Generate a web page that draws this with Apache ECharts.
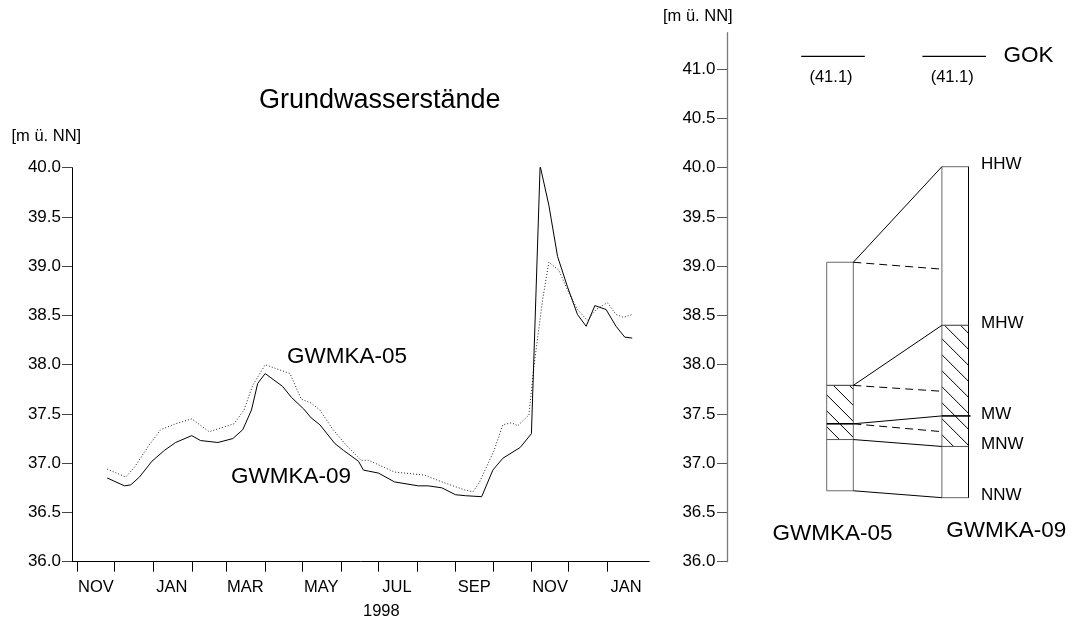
<!DOCTYPE html>
<html><head><meta charset="utf-8">
<script src="https://cdn.jsdelivr.net/npm/echarts@6/dist/echarts.min.js"></script>
<style>html,body{margin:0;padding:0;background:#fff}#c{width:1073px;height:623px}</style>
</head><body><div id="c"></div>
<script>
// ---------- DATA ----------
const dates09 = ['1997-11-25','1997-12-09','1997-12-14','1997-12-21','1997-12-31','1998-01-10','1998-01-19','1998-02-01','1998-02-08','1998-02-22','1998-03-06','1998-03-14','1998-03-21','1998-03-26','1998-04-01','1998-04-15','1998-04-22','1998-05-02','1998-05-08','1998-05-15','1998-05-27','1998-06-03','1998-06-15','1998-06-19','1998-06-23','1998-07-01','1998-07-14','1998-08-02','1998-08-10','1998-08-21','1998-09-01','1998-09-09','1998-09-22','1998-10-01','1998-10-09','1998-10-23','1998-11-01','1998-11-08','1998-11-15','1998-11-22','1998-11-30','1998-12-08','1998-12-15','1998-12-22','1998-12-31','1999-01-08','1999-01-15','1999-01-21'];
const values09 = [36.85,36.77,36.78,36.86,37.02,37.13,37.21,37.28,37.23,37.21,37.25,37.34,37.54,37.81,37.91,37.78,37.67,37.55,37.46,37.39,37.20,37.13,37.02,36.93,36.92,36.90,36.81,36.77,36.77,36.75,36.68,36.67,36.66,36.93,37.05,37.16,37.30,40.02,39.62,39.10,38.79,38.51,38.39,38.60,38.56,38.39,38.28,38.27];
const dates05 = ['1997-11-25','1997-12-10','1997-12-17','1997-12-28','1998-01-07','1998-01-19','1998-02-01','1998-02-15','1998-02-25','1998-03-07','1998-03-15','1998-03-22','1998-04-01','1998-04-21','1998-04-30','1998-05-08','1998-05-15','1998-05-25','1998-06-04','1998-06-17','1998-06-23','1998-07-14','1998-08-07','1998-08-21','1998-09-08','1998-09-15','1998-09-20','1998-10-02','1998-10-09','1998-10-16','1998-10-21','1998-10-30','1998-11-03','1998-11-10','1998-11-15','1998-11-23','1998-11-30','1998-12-08','1998-12-16','1998-12-23','1999-01-01','1999-01-08','1999-01-14','1999-01-21'];
const values05 = [36.94,36.86,36.96,37.17,37.34,37.40,37.45,37.32,37.36,37.40,37.54,37.79,38.00,37.91,37.65,37.61,37.54,37.35,37.20,37.03,37.03,36.91,36.88,36.81,36.73,36.71,36.80,37.13,37.39,37.41,37.38,37.49,37.98,38.66,39.04,38.96,38.76,38.56,38.45,38.56,38.63,38.51,38.48,38.51];

const monthTickDates = ['1997-11-01','1997-12-01','1998-01-01','1998-02-01','1998-03-01','1998-04-01','1998-05-01','1998-06-01','1998-07-01','1998-08-01','1998-09-01','1998-10-01','1998-11-01','1998-12-01','1999-01-01'];
const monthLabelDates = ['1997-11-16','1998-01-16','1998-03-16','1998-05-16','1998-07-16','1998-09-16','1998-11-16','1999-01-16'];
const monthLabels = ['NOV','JAN','MAR','MAY','JUL','SEP','NOV','JAN'];
const yearLabel = '1998';
const xRange = ['1997-10-27T18:00:00Z','1999-02-03T18:00:00Z'];

const yTicksLeft = [36, 36.5, 37, 37.5, 38, 38.5, 39, 39.5, 40];
const yTicksRight = [36, 36.5, 37, 37.5, 38, 38.5, 39, 39.5, 40, 40.5, 41];

const wells = ['GWMKA-05', 'GWMKA-09'];
const levelNames = ['HHW', 'MHW', 'MW', 'MNW', 'NNW'];
const levels05 = [39.04, 37.79, 37.40, 37.24, 36.72];
const levels09 = [40.01, 38.40, 37.48, 37.17, 36.65];
const dashedEnds09 = [38.97, 37.73, 37.32];   // dashed connectors from GWMKA-05 HHW/MHW/MW
const gokLevels = [41.13, 41.13];
const gokName = 'GOK';

const unitLabel = '[m ü. NN]';
const titleText = 'Grundwasserstände';

// ---------- helpers ----------
const ts = s => Date.parse(s.length === 10 ? s + 'T00:00:00Z' : s);
const FONT = '"Liberation Sans", Arial, Helvetica, sans-serif';
const labelMap = {};
monthLabelDates.forEach((d, i) => { labelMap[ts(d)] = monthLabels[i]; });

// ---------- layout ----------
const PX_PER_M = 98.5;
const Y36 = 561.7;
const G1 = { left: 72, top: Y36 - 4 * PX_PER_M, width: 577.3, height: 4 * PX_PER_M };
const RMAX = 41.37;
const G2 = { left: 782.4, top: Y36 - (RMAX - 36) * PX_PER_M, width: 230.4, height: (RMAX - 36) * PX_PER_M };
const COL_HALF = 13.3;
const GOK_HALF = 31.8;
const HATCH_STEP = 16;

function hatch(children, x0, x1, yTop, yBot, step, phase) {
  const w = x1 - x0;
  for (let c = yTop - w + phase; c < yBot; c += step) {
    let xs = x0, ys = c, xe = x1, ye = c + w;
    if (ys < yTop) { xs = x0 + (yTop - c); ys = yTop; }
    if (ye > yBot) { xe = x0 + (yBot - c); ye = yBot; }
    if (xe > xs) children.push({ type: 'line', shape: { x1: xs, y1: ys, x2: xe, y2: ye }, style: { stroke: '#000', lineWidth: 1 } });
  }
}

function renderWell(params, api) {
  const i = params.dataIndex;
  const lv = i === 0 ? levels05 : levels09;
  const cx = api.coord([i, 38])[0];
  const y = v => api.coord([i, v])[1];
  const x0 = cx - COL_HALF, x1 = cx + COL_HALF;
  const ch = [];
  hatch(ch, x0, x1, y(lv[1]), y(lv[3]), HATCH_STEP, i === 0 ? 4 : 8);
  ch.push({ type: 'rect', shape: { x: x0, y: y(lv[0]), width: x1 - x0, height: y(lv[4]) - y(lv[0]) },
    style: { fill: null, stroke: '#6a6a6a', lineWidth: 1 } });
  if (i === 1) {
    ch.push({ type: 'line', shape: { x1: x1, y1: y(lv[0]), x2: x1, y2: y(lv[4]) }, style: { stroke: '#000', lineWidth: 1 } });
  }
  ch.push({ type: 'line', shape: { x1: x0, y1: y(lv[1]), x2: x1, y2: y(lv[1]) }, style: { stroke: '#555', lineWidth: 1.2 } });
  ch.push({ type: 'line', shape: { x1: x0, y1: y(lv[2]), x2: x1 + (i === 1 ? 2 : 0), y2: y(lv[2]) }, style: { stroke: '#000', lineWidth: 1.6 } });
  ch.push({ type: 'line', shape: { x1: x0, y1: y(lv[3]), x2: x1, y2: y(lv[3]) }, style: { stroke: '#555', lineWidth: 1 } });
  const gy = y(gokLevels[i]);
  const gShift = i === 0 ? -7 : -1;
  ch.push({ type: 'line', shape: { x1: cx - GOK_HALF + gShift, y1: gy, x2: cx + GOK_HALF + gShift, y2: gy }, style: { stroke: '#000', lineWidth: 1.3 } });
  ch.push({ type: 'text', style: { text: '(' + gokLevels[i].toFixed(1) + ')', x: cx + gShift - 2, y: gy + 21, align: 'center', verticalAlign: 'middle', font: '16.5px ' + FONT, fill: '#000' } });
  ch.push({ type: 'text', style: { text: wells[i], x: i === 0 ? cx - 7.5 : cx + 51, y: y(i === 0 ? 36.28 : 36.315), align: 'center', verticalAlign: 'middle', font: '22.5px ' + FONT, fill: '#000' } });
  if (i === 1) {
    const p0 = api.coord([0, 38])[0] + COL_HALF;
    const y0 = v => api.coord([0, v])[1];
    for (let k = 0; k < 5; k++) {
      ch.push({ type: 'line', shape: { x1: p0, y1: y0(levels05[k]), x2: x0, y2: y(lv[k]) }, style: { stroke: '#000', lineWidth: 1 } });
    }
    for (let k = 0; k < dashedEnds09.length; k++) {
      ch.push({ type: 'line', shape: { x1: p0, y1: y0(levels05[k]), x2: x0, y2: y(dashedEnds09[k]) }, style: { stroke: '#000', lineWidth: 1, lineDash: [8, 5] } });
    }
    levelNames.forEach((n, k) => {
      ch.push({ type: 'text', style: { text: n, x: x1 + 12.5, y: y(lv[k]) - 2, align: 'left', verticalAlign: 'middle', font: '17px ' + FONT, fill: '#000' } });
    });
    ch.push({ type: 'text', style: { text: gokName, x: x1 + 35, y: gy - 1, align: 'left', verticalAlign: 'middle', font: '22.5px ' + FONT, fill: '#000' } });
  }
  return { type: 'group', children: ch };
}

const chart = echarts.init(document.getElementById('c'), null, { renderer: 'canvas' });
const option = {
  backgroundColor: '#fff',
  animation: false,
  textStyle: { fontFamily: FONT },
  graphic: [
    { type: 'text', left: 380 - 121, top: 102 - 15, style: { text: titleText, font: '27px ' + FONT, fill: '#000' } },
    { type: 'text', left: 11.5, top: 138 - 10, style: { text: unitLabel, font: '16.5px ' + FONT, fill: '#000' } },
    { type: 'text', left: 663, top: 18 - 10, style: { text: unitLabel, font: '16.5px ' + FONT, fill: '#000' } },
    { type: 'text', left: 381 - 18, top: 613 - 10, style: { text: yearLabel, font: '16.5px ' + FONT, fill: '#000' } },
    { type: 'text', left: 287, top: 358 - 13, style: { text: wells[0], font: '22.5px ' + FONT, fill: '#000' } },
    { type: 'text', left: 231, top: 478 - 13, style: { text: wells[1], font: '22.5px ' + FONT, fill: '#000' } }
  ],
  grid: [
    Object.assign({ containLabel: false }, G1),
    Object.assign({ containLabel: false }, G2)
  ],
  xAxis: [
    {
      type: 'value', gridIndex: 0, min: ts(xRange[0]), max: ts(xRange[1]),
      axisLine: { show: true, lineStyle: { color: '#000', width: 1 } },
      axisTick: { show: true, inside: false, length: 10, lineStyle: { color: '#000' }, customValues: monthTickDates.map(ts) },
      axisLabel: { show: true, margin: 17, color: '#000', fontSize: 16.5, fontFamily: FONT,
        customValues: monthLabelDates.map(ts),
        formatter: v => labelMap[v] || '' },
      splitLine: { show: false }, minorTick: { show: false }
    },
    {
      type: 'category', gridIndex: 1, data: wells, show: false
    }
  ],
  yAxis: [
    {
      type: 'value', gridIndex: 0, min: 36, max: 40, interval: 0.5,
      axisLine: { show: true, lineStyle: { color: '#000', width: 1 } },
      axisTick: { show: true, length: 10, lineStyle: { color: '#444' }, customValues: yTicksLeft },
      axisLabel: { margin: 11, color: '#000', fontSize: 17, fontFamily: FONT, customValues: yTicksLeft, formatter: v => v.toFixed(1) },
      splitLine: { show: false }
    },
    {
      type: 'value', gridIndex: 1, min: 36, max: RMAX, offset: G2.left - 727,
      axisLine: { show: true, lineStyle: { color: '#7a7a7a', width: 1.3 } },
      axisTick: { show: true, length: 10, lineStyle: { color: '#555' }, customValues: yTicksRight },
      axisLabel: { margin: 11.5, color: '#000', fontSize: 17, fontFamily: FONT, customValues: yTicksRight, formatter: v => v.toFixed(1) },
      splitLine: { show: false }
    }
  ],
  series: [
    {
      name: wells[0], type: 'line', xAxisIndex: 0, yAxisIndex: 0, symbol: 'none',
      data: dates05.map((d, i) => [ts(d), values05[i]]),
      lineStyle: { color: '#222', width: 1, type: [1, 2] }
    },
    {
      name: wells[1], type: 'line', xAxisIndex: 0, yAxisIndex: 0, symbol: 'none',
      data: dates09.map((d, i) => [ts(d), values09[i]]),
      lineStyle: { color: '#000', width: 1 }
    },
    {
      name: 'Kennwerte', type: 'custom', xAxisIndex: 1, yAxisIndex: 1, clip: false,
      data: wells.map((w, i) => [i, (i === 0 ? levels05 : levels09)[0]]),
      renderItem: renderWell
    }
  ]
};
chart.setOption(option);
</script>
</body></html>
